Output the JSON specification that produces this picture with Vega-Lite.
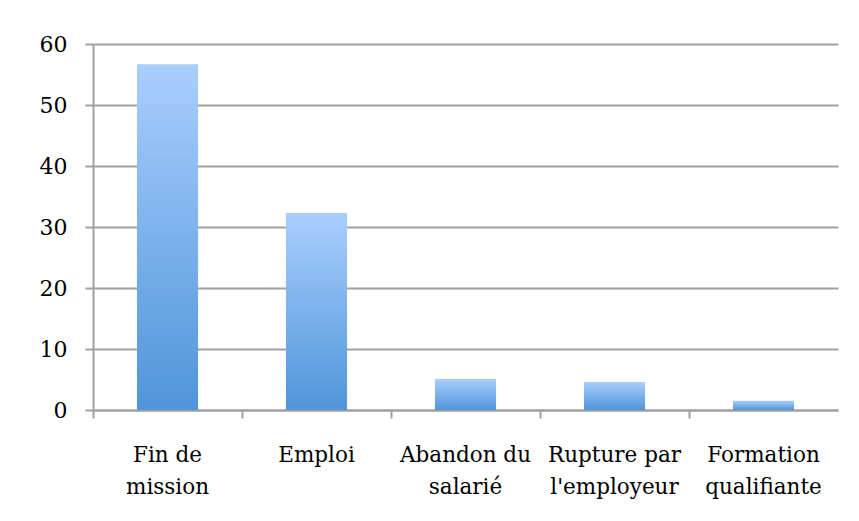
{
  "$schema": "https://vega.github.io/schema/vega-lite/v6.json",
  "autosize": "none",
  "width": 745,
  "height": 366,
  "padding": {"left": 93, "top": 44, "right": 21, "bottom": 111},
  "background": "white",
  "data": {
    "values": [
      {"cause": "Fin de mission", "label": "Fin de|mission", "value": 56.7},
      {"cause": "Emploi", "label": "Emploi", "value": 32.3},
      {"cause": "Abandon du salarié", "label": "Abandon du|salarié", "value": 5.1},
      {"cause": "Rupture par l'employeur", "label": "Rupture par|l'employeur", "value": 4.6},
      {"cause": "Formation qualifiante", "label": "Formation|qualifiante", "value": 1.5}
    ]
  },
  "mark": {
    "type": "bar",
    "width": {"band": 0.41},
    "color": {
      "gradient": "linear",
      "x1": 0, "y1": 0, "x2": 0, "y2": 1,
      "stops": [
        {"offset": 0, "color": "#a9cefd"},
        {"offset": 1, "color": "#4f95da"}
      ]
    }
  },
  "encoding": {
    "x": {
      "field": "label",
      "type": "nominal",
      "sort": null,
      "scale": {"paddingInner": 0, "paddingOuter": 0},
      "axis": {
        "title": null,
        "labelAngle": 0,
        "bandPosition": 0,
        "labelExpr": "split(datum.label, '|')",
        "labelFont": "DejaVu Serif",
        "labelFontSize": 21.5,
        "labelColor": "#000000",
        "labelBaseline": "top",
        "labelLineHeight": 32,
        "labelPadding": 26,
        "tickSize": 8,
        "tickColor": "#a0a0a0",
        "tickWidth": 2,
        "domainColor": "#a0a0a0",
        "domainWidth": 2,
        "grid": false
      }
    },
    "y": {
      "field": "value",
      "type": "quantitative",
      "scale": {"domain": [0, 60]},
      "axis": {
        "title": null,
        "values": [0, 10, 20, 30, 40, 50, 60],
        "labelFont": "DejaVu Serif",
        "labelFontSize": 22,
        "labelColor": "#000000",
        "labelPadding": 18,
        "tickSize": 8,
        "tickColor": "#a0a0a0",
        "tickWidth": 2,
        "domainColor": "#a0a0a0",
        "domainWidth": 2,
        "grid": true,
        "gridColor": "#a0a0a0",
        "gridWidth": 2
      }
    }
  },
  "config": {
    "view": {"stroke": null}
  }
}
